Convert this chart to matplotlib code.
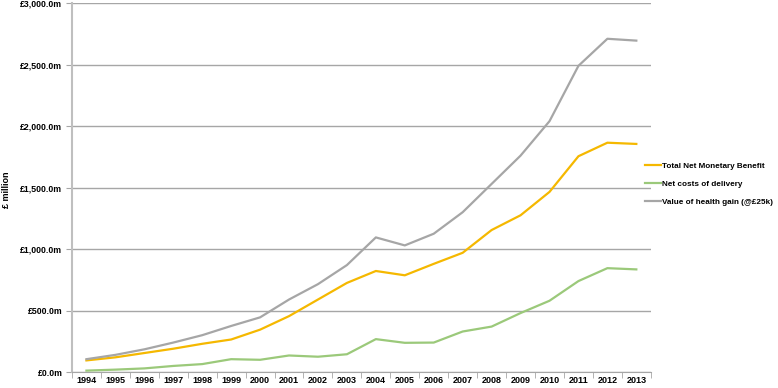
import matplotlib
matplotlib.use("Agg")
import matplotlib.pyplot as plt
import numpy as np
from matplotlib.ticker import FuncFormatter

years = [str(y) for y in range(1994, 2014)]
health_gain = [105, 140, 185, 240, 300, 375, 445, 590, 715, 870,
               1095, 1030, 1125, 1300, 1530, 1760, 2040, 2490, 2710, 2695]
net_benefit = [95, 120, 155, 190, 230, 265, 345, 455, 590, 725,
               822, 787, 880, 970, 1155, 1275, 1465, 1755, 1865, 1855]
net_costs = [12, 20, 30, 50, 65, 105, 100, 135, 125, 145,
             268, 238, 240, 330, 370, 480, 580, 740, 845, 835]

labels = ["Total Net Monetary Benefit", "Net costs of delivery",
          "Value of health gain (@\u00a325k)"]
colors = ["#f5b800", "#9bc97a", "#a6a6a6"]

plt.rcParams["font.family"] = ["Liberation Sans", "DejaVu Sans"]

fig = plt.figure(figsize=(7.78, 3.88), dpi=100)
ax = fig.add_axes([0.0925, 0.041, 0.744, 0.951])

x = np.arange(len(years))
lines = []
for vals, col, lab in zip([net_benefit, net_costs, health_gain], colors, labels):
    (ln,) = ax.plot(x, vals, color=col, linewidth=1.6, label=lab, zorder=3)
    lines.append(ln)

ax.set_xlim(-0.5, len(years) - 0.5)
ax.set_ylim(0, 3000)
ax.set_yticks(np.arange(0, 3001, 500))
ax.yaxis.set_major_formatter(FuncFormatter(lambda v, p: f"\u00a3{v:,.1f}m"))
ax.set_xticks(x)
ax.set_xticklabels(years)
ax.set_xticks(np.arange(-0.5, len(years)), minor=True)
ax.tick_params(axis="x", which="major", length=0, labelsize=6.5, pad=3)
ax.tick_params(axis="x", which="minor", length=4, color="#a6a6a6", direction="out")
ax.tick_params(axis="y", length=4, color="#a6a6a6", labelsize=6.3, pad=3)
for lab in ax.get_xticklabels() + ax.get_yticklabels():
    lab.set_fontweight("bold")

ax.grid(axis="y", color="#a6a6a6", linewidth=1.0, zorder=0)
for s in ["top", "right"]:
    ax.spines[s].set_visible(False)
ax.spines["left"].set_color("#bfbfbf")
ax.spines["left"].set_linewidth(1.5)
ax.spines["bottom"].set_color("#a6a6a6")

fig.text(0.008, 0.51, "\u00a3 million", rotation=90, fontsize=6.5,
         fontweight="bold", ha="center", va="center")

fig.legend(handles=lines, loc="upper left", bbox_to_anchor=(0.829, 0.583),
           frameon=False, handlelength=1.9, handletextpad=0.15,
           borderpad=0, borderaxespad=0, labelspacing=1.3,
           prop={"weight": "bold", "size": 5.9})

fig.savefig("out.png", dpi=100)
